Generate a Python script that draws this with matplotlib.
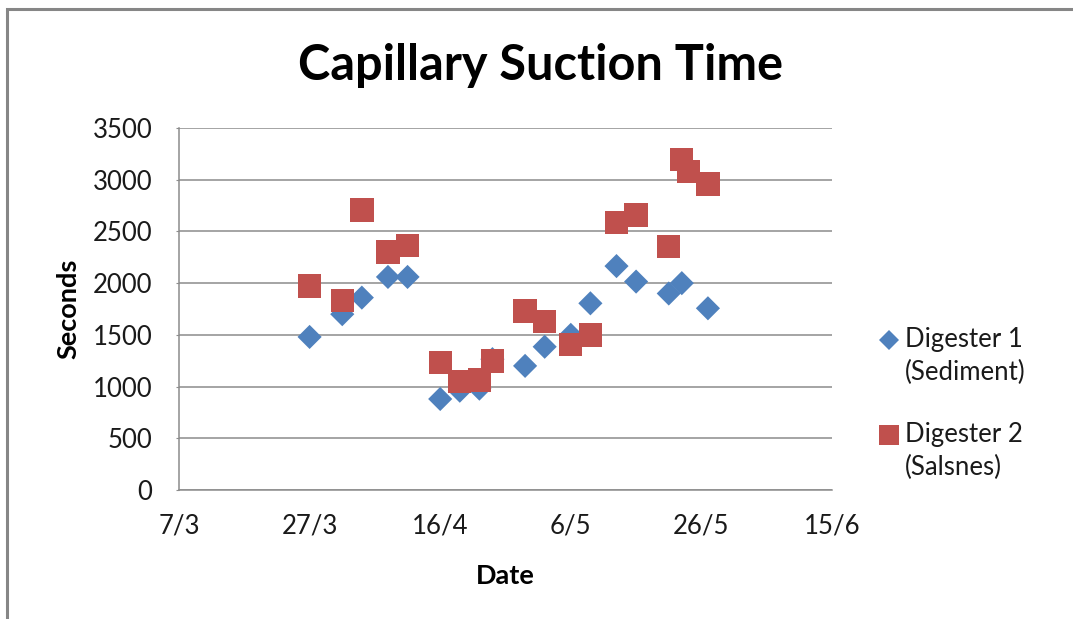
import datetime as dt
import matplotlib
matplotlib.use("Agg")
import matplotlib.pyplot as plt
import matplotlib.dates as mdates
from matplotlib.patches import Rectangle
from matplotlib.lines import Line2D
from matplotlib.ticker import FuncFormatter, MultipleLocator

plt.rcParams['font.family'] = ['Lato', 'DejaVu Sans']

# ---- data ----
d1_dates = ["2011-03-27", "2011-04-01", "2011-04-04", "2011-04-08", "2011-04-11",
            "2011-04-16", "2011-04-19", "2011-04-22", "2011-04-24", "2011-04-29",
            "2011-05-02", "2011-05-06", "2011-05-09", "2011-05-13", "2011-05-16",
            "2011-05-21", "2011-05-23", "2011-05-27"]
d1_values = [1480, 1700, 1860, 2060, 2060,
             880, 960, 980, 1265, 1200,
             1385, 1500, 1805, 2165, 2015,
             1900, 2000, 1757]

d2_dates = ["2011-03-27", "2011-04-01", "2011-04-04", "2011-04-08", "2011-04-11",
            "2011-04-16", "2011-04-19", "2011-04-22", "2011-04-24", "2011-04-29",
            "2011-05-02", "2011-05-06", "2011-05-09", "2011-05-13", "2011-05-16",
            "2011-05-21", "2011-05-23", "2011-05-24", "2011-05-27"]
d2_values = [1972, 1830, 2707, 2300, 2366,
             1235, 1046, 1064, 1248, 1731,
             1627, 1408, 1500, 2588, 2659,
             2353, 3197, 3078, 2959]

series_labels = ["Digester 1\n(Sediment)", "Digester 2\n(Salsnes)"]
title = "Capillary Suction Time"
x_label = "Date"
y_label = "Seconds"
x_start, x_end = "2011-03-07", "2011-06-15"

blue = "#4F81BD"
red = "#C0504D"
grid_c = "#8C8C8C"
text_c = "#1a1a1a"

W, H = 1073, 619
fig = plt.figure(figsize=(W / 100, H / 100), dpi=100)

# outer chart frame (cut off at right/bottom)
fig.patches.append(Rectangle((7 / W, -0.2), 1.5, 1 - 9 / H + 0.2, transform=fig.transFigure,
                             fill=False, edgecolor="#868686", linewidth=2.2))

ax = fig.add_axes([179 / W, 1 - 490 / H, (832 - 179) / W, (490 - 128) / H])

to_dt = lambda s: dt.datetime.strptime(s, "%Y-%m-%d")
x1 = [to_dt(s) for s in d1_dates]
x2 = [to_dt(s) for s in d2_dates]

ax.scatter(x1, d1_values, marker="D", s=12.3 ** 2, color=blue, edgecolors="none", zorder=3)
ax.scatter(x2, d2_values, marker="s", s=16.8 ** 2, color=red, edgecolors="none", zorder=3)

ax.set_xlim(to_dt(x_start), to_dt(x_end))
ax.set_ylim(0, 3500)
ax.yaxis.set_major_locator(MultipleLocator(500))
ticks = [mdates.date2num(to_dt(x_start) + dt.timedelta(days=20 * i)) for i in range(6)]
ax.set_xticks(ticks)
ax.xaxis.set_major_formatter(FuncFormatter(
    lambda v, p: f"{mdates.num2date(v).day}/{mdates.num2date(v).month}"))

ax.grid(axis="y", color=grid_c, linewidth=1.1, zorder=0)
ax.set_axisbelow(True)
for s in ["top", "right"]:
    ax.spines[s].set_visible(False)
for s in ["left", "bottom"]:
    ax.spines[s].set_color(grid_c)
    ax.spines[s].set_linewidth(1.1)
ax.tick_params(axis="y", length=2, color=grid_c, labelsize=18.5, pad=17, labelcolor=text_c)
ax.tick_params(axis="x", length=0, labelsize=18.5, pad=17, labelcolor=text_c)

ax.set_xlabel(x_label, fontsize=19.5, fontweight="bold", labelpad=18)
ax.set_ylabel(y_label, fontsize=19.5, fontweight="bold", labelpad=9)

fig.text(540 / W, 1 - 66 / H, title, ha="center", va="center", fontsize=35, fontweight="bold")

# legend (marker aligned with first text line, as in the original)
leg_items = [(blue, "D", 10.2, 340), (red, "s", 13.8, 435)]
for (c, m, ms, yc), lab in zip(leg_items, series_labels):
    fig.add_artist(Line2D([889 / W], [1 - yc / H], marker=m, markersize=ms, color=c,
                          markeredgewidth=0, linestyle="none", transform=fig.transFigure))
    fig.text(905 / W, 1 - (yc - 13) / H, lab, ha="left", va="top", fontsize=18.5,
             color=text_c, linespacing=1.38)

fig.savefig("out.png", dpi=100)
